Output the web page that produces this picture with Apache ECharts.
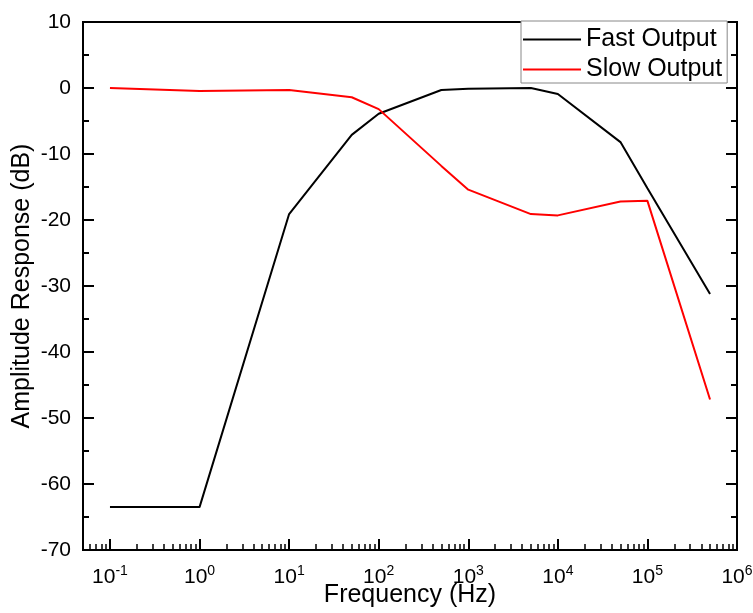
<!DOCTYPE html>
<html>
<head>
<meta charset="utf-8">
<script src="https://cdn.jsdelivr.net/npm/echarts@6/dist/echarts.min.js"></script>
<style>
  html, body { margin: 0; padding: 0; background: #fff; }
  #chart { width: 753px; height: 613px; }
</style>
</head>
<body>
<div id="chart"></div>
<script>
// Frequency points (Hz) and measured amplitude response (dB)
const frequencies = [0.1, 1, 10, 50, 100, 500, 1000, 5000, 10000, 50000, 100000, 500000];
const fastOutput = [-63.5, -63.5, -19.1, -7.1, -3.9, -0.3, -0.1, 0, -0.9, -8.2, -15.2, -31.2];
const slowOutput = [0, -0.45, -0.3, -1.4, -3.2, -11.8, -15.4, -19.1, -19.3, -17.2, -17.1, -47.2];

// Decade exponents shown as 10^n tick labels
const decadeExponents = [-1, 0, 1, 2, 3, 4, 5, 6];
const minorMultipliers = [2, 3, 4, 5, 6, 7, 8, 9];

const xMinLog = Math.log10(0.05);
const xMaxLog = 6;

// Minor ticks at 2..9 of each decade (log10 positions)
const minorTickValues = [];
for (let e = -2; e <= 5; e++) {
  minorMultipliers.forEach(m => {
    const v = Math.log10(m * Math.pow(10, e));
    if (v > xMinLog && v < xMaxLog) minorTickValues.push(v);
  });
}

const toPairs = ys => frequencies.map((f, i) => [Math.log10(f), ys[i]]);

const FONT = 'Liberation Sans, Arial, sans-serif';

const chart = echarts.init(document.getElementById('chart'), null, { renderer: 'canvas' });

chart.setOption({
  animation: false,
  backgroundColor: '#fff',
  grid: {
    left: 83, right: 16, top: 22, bottom: 63,
    outerBoundsMode: 'none',
    containLabel: false,
    show: true, borderColor: '#000', borderWidth: 2, backgroundColor: 'transparent'
  },
  legend: {
    data: ['Fast Output', 'Slow Output'],
    orient: 'vertical',
    left: 521, top: 21,
    padding: [6, 5, 1, 2],
    itemGap: 5,
    itemWidth: 58,
    itemHeight: 2,
    icon: 'rect',
    backgroundColor: '#fff',
    borderColor: '#888',
    borderWidth: 1,
    textStyle: { fontFamily: FONT, fontSize: 25, color: '#000' }
  },
  xAxis: [
    {
      type: 'value',
      min: xMinLog, max: xMaxLog,
      name: 'Frequency (Hz)',
      nameLocation: 'middle',
      nameGap: 33,
      nameMoveOverlap: false,
      nameTextStyle: { fontFamily: FONT, fontSize: 25, color: '#000' },
      axisLine: { show: true, onZero: false, lineStyle: { color: '#000', width: 2 } },
      axisTick: { show: true, inside: true, length: 11, customValues: decadeExponents, lineStyle: { color: '#000', width: 2 } },
      axisLabel: {
        show: true,
        margin: 14,
        customValues: decadeExponents,
        formatter: v => '{b|10}{s|' + Math.round(v) + '}',
        rich: {
          b: { fontFamily: FONT, fontSize: 21, color: '#000' },
          s: { fontFamily: FONT, fontSize: 14, color: '#000', verticalAlign: 'top', padding: [0, 0, 12, 0] }
        }
      },
      splitLine: { show: false }
    },
    {
      type: 'value',
      min: xMinLog, max: xMaxLog,
      position: 'bottom',
      axisLine: { show: false, onZero: false },
      axisTick: { show: true, inside: true, length: 6, customValues: minorTickValues, lineStyle: { color: '#000', width: 1.5 } },
      axisLabel: { show: false },
      splitLine: { show: false }
    }
  ],
  yAxis: [
    {
      type: 'value',
      min: -70, max: 10, interval: 10,
      name: 'Amplitude Response (dB)',
      nameLocation: 'middle',
      nameGap: 48,
      nameMoveOverlap: false,
      nameTextStyle: { fontFamily: FONT, fontSize: 25, color: '#000' },
      axisLine: { show: true, onZero: false, lineStyle: { color: '#000', width: 2 } },
      axisTick: { show: true, inside: true, length: 11, lineStyle: { color: '#000', width: 2 } },
      minorTick: { show: true, splitNumber: 2, length: 6, lineStyle: { color: '#000', width: 2 } },
      axisLabel: { fontFamily: FONT, fontSize: 21, color: '#000', margin: 12 },
      splitLine: { show: false }
    },
    {
      type: 'value',
      min: -70, max: 10, interval: 10,
      position: 'right',
      axisLine: { show: true, onZero: false, lineStyle: { color: '#000', width: 2 } },
      axisTick: { show: true, inside: true, length: 11, lineStyle: { color: '#000', width: 2 } },
      minorTick: { show: true, splitNumber: 2, length: 6, lineStyle: { color: '#000', width: 2 } },
      axisLabel: { show: false },
      splitLine: { show: false }
    }
  ],
  series: [
    {
      name: 'Fast Output',
      type: 'line',
      data: toPairs(fastOutput),
      showSymbol: false,
      symbol: 'none',
      color: '#000',
      lineStyle: { color: '#000', width: 2 },
      z: 3
    },
    {
      name: 'Slow Output',
      type: 'line',
      data: toPairs(slowOutput),
      showSymbol: false,
      symbol: 'none',
      color: '#ff0000',
      lineStyle: { color: '#ff0000', width: 2 },
      z: 3
    }
  ]
});
</script>
</body>
</html>
